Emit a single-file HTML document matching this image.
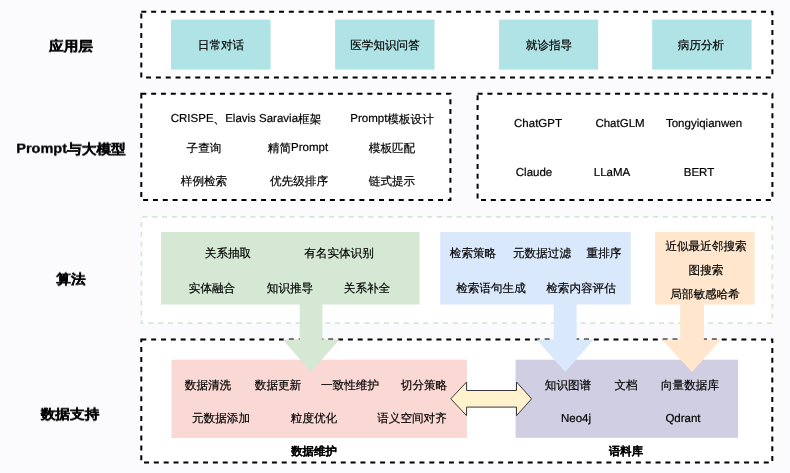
<!DOCTYPE html>
<html><head><meta charset="utf-8">
<style>
html,body{margin:0;padding:0}
body{-webkit-font-smoothing:antialiased;width:790px;height:473px;background:#fbfbfd;position:relative;overflow:hidden;font-family:"Liberation Sans",sans-serif;color:#000}
svg{position:absolute;left:0;top:0}
.t{position:absolute;will-change:transform;width:240px;margin-left:-120px;text-align:center;font-size:11.6px;font-weight:500;line-height:14px;white-space:nowrap;text-rendering:geometricPrecision;-webkit-text-stroke:0.2px currentColor}
.t .L{font-size:11.5px;position:relative;top:-1px}
.b{-webkit-text-stroke:0.3px currentColor;transform:scaleY(0.92);font-weight:bold;font-size:14.7px;line-height:18px;color:#000}
.b .L{font-size:14.5px;top:-1.5px}
.s{-webkit-text-stroke:0.1px currentColor;font-weight:bold;font-size:11.4px;color:#000}
</style></head><body>
<svg width="790" height="473" viewBox="0 0 790 473">
  <!-- dashed containers -->
  <g fill="#fff" stroke="#000" stroke-width="2" stroke-dasharray="5 4.82">
    <path d="M141.3 11.8 H772.4 V77.5 H141.3 Z" stroke-dasharray="5 4.837"/>
    <path d="M141.3 93.7 H450.4 V199.9 H141.3 Z" stroke-dasharray="5 4.83"/>
    <path d="M477.6 93.7 H772.4 V199.9 H477.6 Z"/>
    <path d="M141.3 339.5 H772.3 V462.4 H141.3 Z" stroke-dasharray="5 4.837"/>
  </g>
  <path d="M141.4 216.8 H772.3 V323.1 H141.4 Z" fill="#fff" stroke="#d5e8d4" stroke-width="1.7" stroke-dasharray="5 4.82" stroke-dashoffset="-1"/>
  <!-- teal boxes -->
  <g fill="#b0e3e6">
    <rect x="171" y="19.6" width="99.6" height="50"/>
    <rect x="335.1" y="19.6" width="99.4" height="50"/>
    <rect x="499.1" y="19.6" width="99" height="50"/>
    <rect x="652.2" y="19.6" width="99.4" height="50"/>
  </g>
  <rect x="161.1" y="232" width="258.4" height="72.5" fill="#d5e8d4"/>
  <rect x="440.2" y="232" width="190.6" height="72.5" fill="#dae8fc"/>
  <rect x="655.1" y="232" width="99.4" height="72.5" fill="#ffe6cc"/>
  <rect x="171.5" y="359.7" width="295.4" height="78.3" fill="#fad9d5"/>
  <rect x="515.6" y="359.7" width="222.4" height="78.1" fill="#d0cee2"/>
  <!-- arrows -->
  <path d="M299.7 304 H322.4 V339.4 H339.5 L311 372 L282.7 339.4 H299.7 Z" fill="#d5e8d4"/>
  <path d="M553.7 304 H576.6 V339.4 H593.7 L565.2 372 L536.6 339.4 H553.7 Z" fill="#dae8fc"/>
  <path d="M680.2 304 H703.9 V339.4 H721 L692 372 L662 339.4 H680.2 Z" fill="#ffe6cc"/>
  <path d="M450.8 398.8 L466.6 382 V390.5 H516.5 V382 L531.6 398.8 L516.5 415.7 V407.1 H466.6 V415.7 Z" fill="#fff2cc" stroke="#36393d" stroke-width="1"/>
</svg>
<div class="t b" style="left:70.64px;top:37.69px">应用层</div>
<div class="t b" style="left:70.74px;top:140.52px"><span class="L">Prompt</span>与大模型</div>
<div class="t b" style="left:70.63px;top:270.70px">算法</div>
<div class="t b" style="left:69.67px;top:405.56px">数据支持</div>
<div class="t" style="left:220.63px;top:38.63px">日常对话</div>
<div class="t" style="left:384.67px;top:38.63px">医学知识问答</div>
<div class="t" style="left:548.67px;top:38.63px">就诊指导</div>
<div class="t" style="left:700.70px;top:38.63px">病历分析</div>
<div class="t" style="left:245.55px;top:112.62px"><span class="L">CRISPE</span>、<span class="L">Elavis Saravia</span>框架</div>
<div class="t" style="left:391.72px;top:112.62px"><span class="L">Prompt</span>模板设计</div>
<div class="t" style="left:203.75px;top:141.57px">子查询</div>
<div class="t" style="left:297.55px;top:141.57px">精简<span class="L">Prompt</span></div>
<div class="t" style="left:391.82px;top:141.57px">模板匹配</div>
<div class="t" style="left:203.71px;top:174.53px">样例检索</div>
<div class="t" style="left:298.73px;top:174.53px">优先级排序</div>
<div class="t" style="left:391.65px;top:174.53px">链式提示</div>
<div class="t" style="left:537.63px;top:117.52px"><span class="L">ChatGPT</span></div>
<div class="t" style="left:619.72px;top:117.52px"><span class="L">ChatGLM</span></div>
<div class="t" style="left:703.70px;top:117.52px"><span class="L">Tongyiqianwen</span></div>
<div class="t" style="left:533.55px;top:166.58px"><span class="L">Claude</span></div>
<div class="t" style="left:611.74px;top:166.58px"><span class="L">LLaMA</span></div>
<div class="t" style="left:698.71px;top:166.58px"><span class="L">BERT</span></div>
<div class="t" style="left:227.64px;top:246.50px">关系抽取</div>
<div class="t" style="left:338.56px;top:246.50px">有名实体识别</div>
<div class="t" style="left:211.72px;top:281.87px">实体融合</div>
<div class="t" style="left:289.70px;top:281.87px">知识推导</div>
<div class="t" style="left:366.56px;top:281.87px">关系补全</div>
<div class="t" style="left:472.55px;top:246.50px">检索策略</div>
<div class="t" style="left:541.59px;top:246.50px">元数据过滤</div>
<div class="t" style="left:603.60px;top:246.50px">重排序</div>
<div class="t" style="left:490.72px;top:281.87px">检索语句生成</div>
<div class="t" style="left:580.52px;top:281.87px">检索内容评估</div>
<div class="t" style="left:705.50px;top:239.65px">近似最近邻搜索</div>
<div class="t" style="left:705.62px;top:263.62px">图搜索</div>
<div class="t" style="left:704.59px;top:287.68px">局部敏感哈希</div>
<div class="t" style="left:207.53px;top:378.68px">数据清洗</div>
<div class="t" style="left:277.50px;top:378.68px">数据更新</div>
<div class="t" style="left:349.69px;top:378.68px">一致性维护</div>
<div class="t" style="left:423.56px;top:378.68px">切分策略</div>
<div class="t" style="left:220.64px;top:411.54px">元数据添加</div>
<div class="t" style="left:313.69px;top:411.54px">粒度优化</div>
<div class="t" style="left:411.60px;top:411.54px">语义空间对齐</div>
<div class="t s" style="left:313.60px;top:445.00px">数据维护</div>
<div class="t" style="left:567.60px;top:378.68px">知识图谱</div>
<div class="t" style="left:625.52px;top:378.68px">文档</div>
<div class="t" style="left:689.66px;top:378.68px">向量数据库</div>
<div class="t" style="left:575.69px;top:412.56px"><span class="L">Neo4j</span></div>
<div class="t" style="left:682.69px;top:412.56px"><span class="L">Qdrant</span></div>
<div class="t s" style="left:625.72px;top:445.00px">语料库</div>
</body></html>
